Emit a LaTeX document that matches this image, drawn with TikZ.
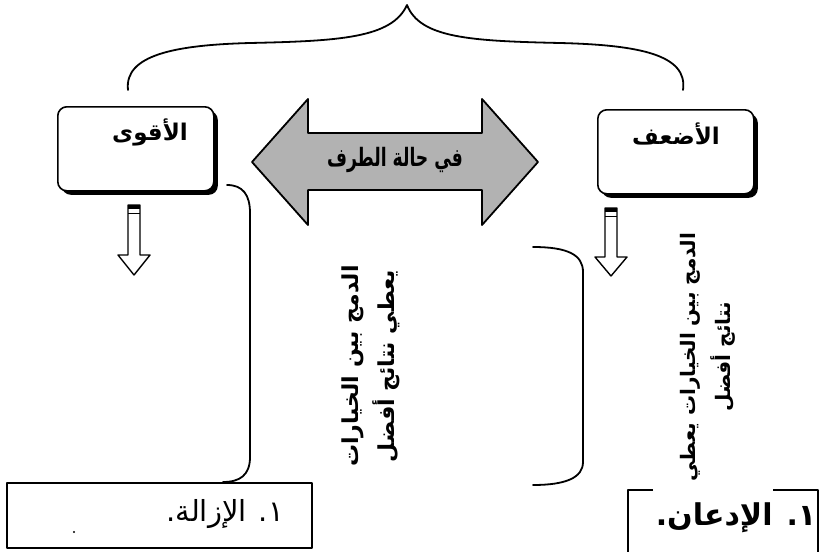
\documentclass[tikz,border=0pt]{standalone}
\usepackage{fontspec}
\newfontfamily\arabicfont[Script=Arabic]{DejaVu Sans}
\TeXXeTstate=1
\usetikzlibrary{shadows}
\begin{document}
\begin{tikzpicture}[x=1pt,y=-1pt,line join=round]
\useasboundingbox (0,0) rectangle (821,551);
\tikzset{
  ar/.style={font=\arabicfont\bfseries, inner sep=0pt},
  topbox/.style={draw, line width=1.6pt, rounded corners=9pt, fill=white,
     minimum width=156pt, minimum height=84pt, anchor=north west,
     drop shadow={shadow xshift=4pt, shadow yshift=-4pt, fill=black, opacity=1}},
  curve/.style={line width=1.8pt, line cap=round},
  downarrow/.style={draw, line width=1.4pt, fill=white},
  bottombox/.style={line width=1.5pt},
}
% brace
\coordinate (bl) at (128,90);
\coordinate (bp) at (407,5);
\coordinate (br) at (683,90);
\draw[curve] (bl) .. controls (124,55) and (175,45) .. (250,43)
   .. controls (340,41) and (392,38) .. (bp)
   .. controls (420,38) and (470,41) .. (560,43)
   .. controls (640,45) and (688,55) .. (br);
% top boxes
\node[topbox] (strong) at (57,106) {};
\node[topbox] (weak) at (597,109) {};
\node[ar, font=\arabicfont\bfseries\fontsize{23}{26}\selectfont] (tstrong) at (150,132) {\beginR الأقوى\endR};
\node[ar, font=\arabicfont\bfseries\fontsize{23}{26}\selectfont] (tweak) at (676,134) {\beginR الأضعف\endR};
% double arrow
\draw[line width=1.8pt, fill=gray!60] (252,162) -- (308,99) -- (308,133) -- (482,133) -- (482,99)
  -- (538,162) -- (482,225) -- (482,190) -- (308,190) -- (308,225) -- cycle;
\node[ar, font=\arabicfont\bfseries\fontsize{22}{26}\selectfont] (case) at (395,160) {\scalebox{0.78}[1.15]{\beginR في حالة الطرف\endR}};
% small down arrows
\draw[downarrow] (128,205) -- (140,205) -- (140,255) -- (150,255) -- (134,275) -- (118,255) -- (128,255) -- cycle;
\fill (128,205) rectangle (140,209);
\draw[line width=1pt] (128,213) -- (140,213);
\draw[downarrow] (605,208) -- (617,208) -- (617,257) -- (627,257) -- (611,276) -- (595,257) -- (605,257) -- cycle;
\fill (605,208) rectangle (617,212);
\draw[line width=1pt] (605,216) -- (617,216);
% brackets
\draw[curve] (227,185) .. controls (243,185) and (250,195) .. (250,213) -- (250,457)
  .. controls (250,475) and (240,482) .. (223,482);
\draw[curve] (533,247) .. controls (568,247) and (583,255) .. (583,272) -- (583,462)
  .. controls (583,478) and (565,485) .. (533,485);
% vertical texts
\node[ar, rotate=90, align=center, font=\arabicfont\bfseries\fontsize{22}{36}\selectfont] (mid) at (371,366)
  {\beginR الدمج بين الخيارات\endR\\ \beginR يعطي نتائج أفضل\endR};
\node[ar, rotate=90, align=center, font=\arabicfont\bfseries\fontsize{20}{35}\selectfont] (side) at (708,357)
  {\beginR الدمج بين الخيارات يعطي\endR\\ \beginR نتائج أفضل\endR};
% bottom boxes
\draw[bottombox] (7,483) rectangle (312,548);
\node[font=\arabicfont\fontsize{29}{32}\selectfont, inner sep=0pt] (removal) at (225,514) {\beginR ١. الإزالة.\endR};
\fill (74,532) circle (1.2);
\draw[bottombox] (653,490) -- (628,490) -- (628,556);
\draw[bottombox] (773,490) -- (818,490) -- (818,556);
\node[ar, font=\arabicfont\bfseries\fontsize{30}{34}\selectfont] (submit) at (736,518) {\beginR ١. الإدعان.\endR};
\end{tikzpicture}
\end{document}
